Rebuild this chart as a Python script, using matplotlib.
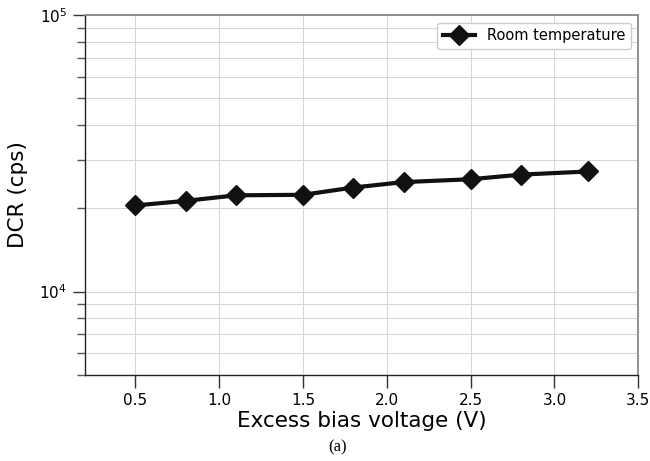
import numpy as np
import matplotlib
matplotlib.use('Agg')
import matplotlib.pyplot as plt

plt.rcParams['font.family'] = 'DejaVu Sans'
plt.rcParams['mathtext.fontset'] = 'dejavusans'

bias = [0.5, 0.8, 1.1, 1.5, 1.8, 2.1, 2.5, 2.8, 3.2]
dcr = [20500, 21300, 22300, 22400, 23800, 24900, 25500, 26500, 27200]


def main():
    fig = plt.figure(figsize=(6.5, 4.61), dpi=100)
    ax = fig.add_axes([0.131, 0.187, 0.851, 0.780])

    ax.plot(bias, dcr, color='#111111', lw=3, marker='D', ms=10,
            label='Room temperature')
    ax.set_yscale('log')
    ax.set_xlim(0.2, 3.5)
    ax.set_ylim(5000, 1e5)
    ax.set_xticks([0.5, 1.0, 1.5, 2.0, 2.5, 3.0, 3.5])

    ax.grid(True, which='major', color='#d4d4d4', lw=0.7)
    ax.grid(True, which='minor', axis='y', color='#d4d4d4', lw=0.7)
    ax.tick_params(which='major', length=9, width=1, color='#333333',
                   labelsize=11, pad=4)
    ax.tick_params(which='minor', length=6, width=1, color='#555555')
    ax.tick_params(axis='x', which='minor', bottom=False)
    ax.yaxis.set_minor_formatter(matplotlib.ticker.NullFormatter())

    for s in ['top', 'right']:
        ax.spines[s].set_color('#888888')
        ax.spines[s].set_linewidth(1.3)
    for s in ['left', 'bottom']:
        ax.spines[s].set_color('#222222')
        ax.spines[s].set_linewidth(1.0)

    ax.set_xlabel('Excess bias voltage (V)', fontsize=15.5, labelpad=2)
    ax.set_ylabel('DCR (cps)', fontsize=15.5, labelpad=8)
    ax.legend(loc='upper right', fontsize=10.5, handlelength=2.2,
              framealpha=1, edgecolor='#cccccc')

    fig.text(0.52, 0.03, '(a)', family='Liberation Serif', fontsize=12,
             ha='center', va='center')

    fig.savefig('out.png')


if __name__ == '__main__':
    main()
